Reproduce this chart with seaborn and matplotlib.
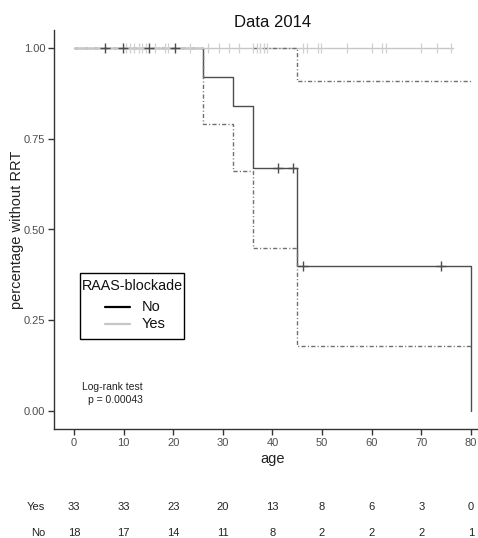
import numpy as np
import pandas as pd
import matplotlib
matplotlib.use("Agg")
import matplotlib.pyplot as plt
import seaborn as sns
from matplotlib.lines import Line2D
from matplotlib.patches import Rectangle

# ---- data ----
no_t = [0, 26, 32, 36, 45, 80]
no_s = [1.0, 0.92, 0.84, 0.67, 0.40, 0.0]
yes_t = [0, 76.5]
yes_s = [1.0, 1.0]
lower_t = [0, 26, 32, 36, 45, 80]
lower_s = [1.0, 0.79, 0.66, 0.45, 0.18, 0.18]
upper_t = [36, 45, 80]
upper_s = [1.0, 0.91, 0.91]

no_cens_t = [6.2, 9.9, 15.2, 20.4, 41.2, 44.1, 46.2, 74.0]
no_cens_s = [1.0, 1.0, 1.0, 1.0, 0.67, 0.67, 0.40, 0.40]
yes_cens_t = [10.5, 11.3, 12.1, 13.0, 13.8, 14.5, 16.3, 18.3, 19.0, 23.3, 27.1, 29.3,
              31.3, 33.3, 36.1, 36.8, 37.5, 38.3, 39.0, 46.2, 47.0, 49.1, 49.9, 55.1,
              60.0, 62.2, 62.9, 70.0, 73.1, 76.1]

risk_times = [0, 10, 20, 30, 40, 50, 60, 70, 80]
risk_yes = [33, 33, 23, 20, 13, 8, 6, 3, 0]
risk_no = [18, 17, 14, 11, 8, 2, 2, 2, 1]

legend_title = 'RAAS-blockade'
legend_labels = ['No', 'Yes']

# ---- style ----
sns.set_style("white")
plt.rcParams['font.family'] = ['Liberation Sans', 'DejaVu Sans']

W, H = 478, 538
fig = plt.figure(figsize=(W / 100, H / 100), dpi=100)
ax_l, ax_r, ax_t, ax_b = 54.2, 490.6, 30, 429
ax = fig.add_axes([ax_l / W, 1 - ax_b / H, (ax_r - ax_l) / W, (ax_b - ax_t) / H])

dark = '#4d4d4d'
light = '#c6c6c6'
ci_col = '#707070'
dd = (0, (3, 1.6, 0.8, 1.6))

sns.lineplot(x=no_t, y=no_s, ax=ax, color=dark, lw=1.0, drawstyle='steps-post',
             estimator=None, sort=False)
sns.lineplot(x=lower_t, y=lower_s, ax=ax, color=ci_col, lw=1.0, linestyle=dd,
             drawstyle='steps-post', estimator=None, sort=False)
sns.lineplot(x=yes_t, y=yes_s, ax=ax, color=light, lw=1.0, drawstyle='steps-post',
             estimator=None, sort=False)
sns.lineplot(x=upper_t, y=upper_s, ax=ax, color=ci_col, lw=1.0, linestyle=dd,
             drawstyle='steps-post', estimator=None, sort=False)
sns.scatterplot(x=yes_cens_t, y=[1.0] * len(yes_cens_t), ax=ax, marker='|', s=50,
                color='#d0d0d0', linewidth=0.9, zorder=3)
sns.scatterplot(x=no_cens_t, y=no_cens_s, ax=ax, marker='+', s=55,
                color=dark, linewidth=1.0, zorder=4)

ax.set_xlim(-4, 84)
ax.set_ylim(-0.05, 1.05)
ax.set_xticks(risk_times)
ax.set_yticks([0, 0.25, 0.5, 0.75, 1.0])
ax.set_yticklabels(['0.00', '0.25', '0.50', '0.75', '1.00'])
for side in ['top', 'right']:
    ax.spines[side].set_visible(False)
for side in ['left', 'bottom']:
    ax.spines[side].set_color('#333333')
    ax.spines[side].set_linewidth(1.0)
ax.tick_params(axis='both', which='both', direction='out', length=4, width=1,
               color='#333333', labelsize=8, labelcolor='#4d4d4d', pad=2.5,
               bottom=True, left=True)
ax.set_xlabel('age', fontsize=10.5, color='#222222', labelpad=2.5)
ax.set_ylabel('percentage without RRT', fontsize=10.5, color='#222222', labelpad=0)
ax.set_title('Data 2014', fontsize=12, color='#111111', pad=2.5)

# legend drawn in figure pixel space
def fx(px):
    return px / W

def fy(py):
    return 1 - py / H

fig.patches.append(Rectangle((fx(80), fy(339)), fx(184) - fx(80), fy(273) - fy(339),
                             transform=fig.transFigure, fill=False, edgecolor='black',
                             linewidth=1.0))
fig.text(fx(82), fy(286), legend_title, fontsize=10.3, color='#111111',
         ha='left', va='center')
for lab, col, py in [(legend_labels[0], 'black', 307), (legend_labels[1], light, 324)]:
    fig.add_artist(Line2D([fx(105), fx(130)], [fy(py), fy(py)], color=col, lw=1.6,
                          transform=fig.transFigure))
    fig.text(fx(142), fy(py), lab, fontsize=10.5, color='#111111', ha='left', va='center')

# log-rank text
fig.text(fx(82), fy(387), 'Log-rank test', fontsize=7.5, color='#222222',
         ha='left', va='center')
fig.text(fx(88), fy(400), 'p = 0.00043', fontsize=7.5, color='#222222',
         ha='left', va='center')

# risk table
def xpix(t):
    return (74 + t * 4.96) / W

for lab, vals, ypix in [('Yes', risk_yes, 507), ('No', risk_no, 533)]:
    fig.text(fx(45), fy(ypix), lab, fontsize=8, color='#222222', ha='right', va='center')
    for t, v in zip(risk_times, vals):
        fig.text(xpix(t), fy(ypix), str(v), fontsize=8, color='#222222',
                 ha='center', va='center')

fig.savefig('out.png', dpi=100)
